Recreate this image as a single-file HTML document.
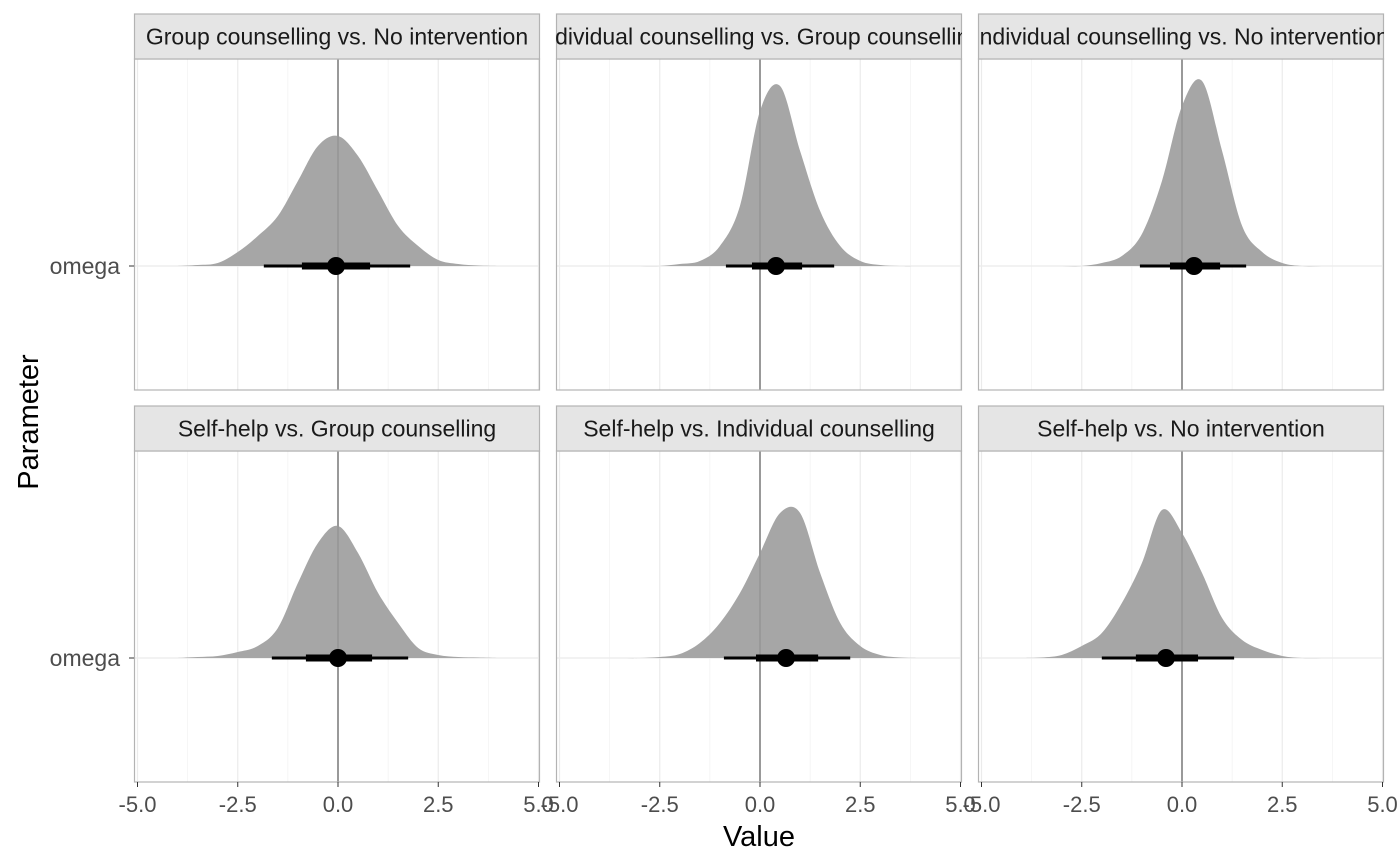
<!DOCTYPE html>
<html><head><meta charset="utf-8"><style>
body{margin:0;background:#fff;}
svg{display:block;font-family:"Liberation Sans",sans-serif;}
</style></head><body>
<svg id="chart" width="1400" height="866"></svg>
<script>
const titles=["Group counselling vs. No intervention","Individual counselling vs. Group counselling","Individual counselling vs. No intervention","Self-help vs. Group counselling","Self-help vs. Individual counselling","Self-help vs. No intervention"];
const gridX=[-4,-3.5,-3,-2.5,-2,-1.5,-1,-0.5,0,0.5,1,1.5,2,2.5,3,3.5,4];
const dens1=[0,1,3,14,30,50,85,120,130,110,75,40,20,6,2,0.5,0];
const dens2=[0,0,0,0,2,5,20,60,155,180,115,55,20,5,1,0,0];
const dens3=[0,0,0,0,3,10,32,85,160,185,115,40,14,3,0,0,0];
const dens4=[0,1,2,6,12,30,75,115,132,105,65,35,10,3,1,0.5,0];
const dens5=[0,0,0,1,4,15,35,65,105,145,145,85,35,12,3,0.5,0];
const dens6=[0,0.5,3,12,25,55,95,148,125,85,40,18,8,2,0,0,0];
const densities=[dens1,dens2,dens3,dens4,dens5,dens6];
const pointEst=[-0.05,0.4,0.3,0,0.65,-0.4];
const innerLo=[-0.9,-0.2,-0.3,-0.8,-0.1,-1.15];
const innerHi=[0.8,1.05,0.95,0.85,1.45,0.4];
const outerLo=[-1.85,-0.85,-1.05,-1.65,-0.9,-2.0];
const outerHi=[1.8,1.85,1.6,1.75,2.25,1.3];
const xTicks=[-5,-2.5,0,2.5,5];
const xTickLabels=["-5.0","-2.5","0.0","2.5","5.0"];

const NS="http://www.w3.org/2000/svg";
const svg=document.getElementById("chart");
function mk(t,a,p){const e=document.createElementNS(NS,t);for(const k in a)e.setAttribute(k,a[k]);(p||svg).appendChild(e);return e;}
const panelLefts=[134,556,978], panelW=406;
const rowTops=[59,451], panelH=331, stripH=45;
const defs=mk("defs",{});
function smooth(pts){let d="M"+pts[0][0]+","+pts[0][1];for(let i=0;i<pts.length-1;i++){const p0=pts[Math.max(i-1,0)],p1=pts[i],p2=pts[i+1],p3=pts[Math.min(i+2,pts.length-1)];const c1=[p1[0]+(p2[0]-p0[0])/6,p1[1]+(p2[1]-p0[1])/6],c2=[p2[0]-(p3[0]-p1[0])/6,p2[1]-(p3[1]-p1[1])/6];d+=" C"+c1[0]+","+c1[1]+" "+c2[0]+","+c2[1]+" "+p2[0]+","+p2[1];}return d;}
for(let i=0;i<6;i++){
  const col=i%3,row=Math.floor(i/3);
  const L=panelLefts[col],T=rowTops[row];
  const sx=v=>L+204+v*40.1;
  const base=T+207;
  const g=mk("g",{});
  
  
  [-3.75,-1.25,1.25,3.75].forEach(v=>mk("line",{x1:sx(v),x2:sx(v),y1:T,y2:T+panelH,stroke:"#f2f2f2","stroke-width":0.7},g));
  xTicks.forEach(v=>mk("line",{x1:sx(v),x2:sx(v),y1:T,y2:T+panelH,stroke:"#ebebeb","stroke-width":1.2},g));
  mk("line",{x1:L,x2:L+panelW,y1:base,y2:base,stroke:"#ebebeb","stroke-width":1.2},g);
  const dd=densities[i];
  const pts=gridX.map((x,k)=>[sx(x),base-dd[k]]);
  const d=smooth(pts)+" L"+sx(4)+","+base+" L"+sx(-4)+","+base+" Z";
  const pa=mk("path",{d:d,fill:"#a6a6a6"},g);
  
  
  mk("line",{x1:sx(0),x2:sx(0),y1:T,y2:T+panelH,stroke:"#999","stroke-width":2},g);
  const o=mk("line",{x1:sx(outerLo[i]),x2:sx(outerHi[i]),y1:base,y2:base,stroke:"#000","stroke-width":3},g);
  
  
  const n=mk("line",{x1:sx(innerLo[i]),x2:sx(innerHi[i]),y1:base,y2:base,stroke:"#000","stroke-width":7},g);
  
  
  const c=mk("circle",{cx:sx(pointEst[i]),cy:base,r:9,fill:"#000"},g);
  
  
  mk("rect",{x:L+0.5,y:T,width:panelW-1,height:panelH,fill:"none",stroke:"#b3b3b3","stroke-width":1.2},g);
  const cp=mk("clipPath",{id:"cp"+i},defs);
  mk("rect",{x:L,y:T-stripH,width:panelW,height:stripH},cp);
  const st=mk("rect",{x:L+0.5,y:T-stripH,width:panelW-1,height:stripH,fill:"#e5e5e5",stroke:"#b3b3b3","stroke-width":1.2},g);
  
  
  const tx=mk("text",{x:L+panelW/2,y:T-stripH/2+8,"text-anchor":"middle","font-size":23,fill:"#1a1a1a","clip-path":"url(#cp"+i+")"},g);
  tx.textContent=titles[i];
  
  
  if(col===0){
    const yl=mk("text",{x:L-14,y:base+8,"text-anchor":"end","font-size":23,fill:"#4d4d4d"},g);
    yl.textContent="omega";
    
    
    mk("line",{x1:L-5,x2:L,y1:base,y2:base,stroke:"#333","stroke-width":1},g);
  }
  if(row===1){
    xTicks.forEach((v,k)=>{
      mk("line",{x1:sx(v),x2:sx(v),y1:T+panelH,y2:T+panelH+5,stroke:"#333","stroke-width":1},g);
      const t=mk("text",{x:sx(v),y:T+panelH+30,"text-anchor":"middle","font-size":22,fill:"#4d4d4d"},g);
      t.textContent=xTickLabels[k];
      
      
    });
  }
}
const xt=mk("text",{x:759,y:846,"text-anchor":"middle","font-size":29,fill:"#000"});
xt.textContent="Value";


const yt=mk("text",{x:0,y:0,"text-anchor":"middle","font-size":29,fill:"#000",transform:"translate(38,422) rotate(-90)"});
yt.textContent="Parameter";


</script>
</body></html>
